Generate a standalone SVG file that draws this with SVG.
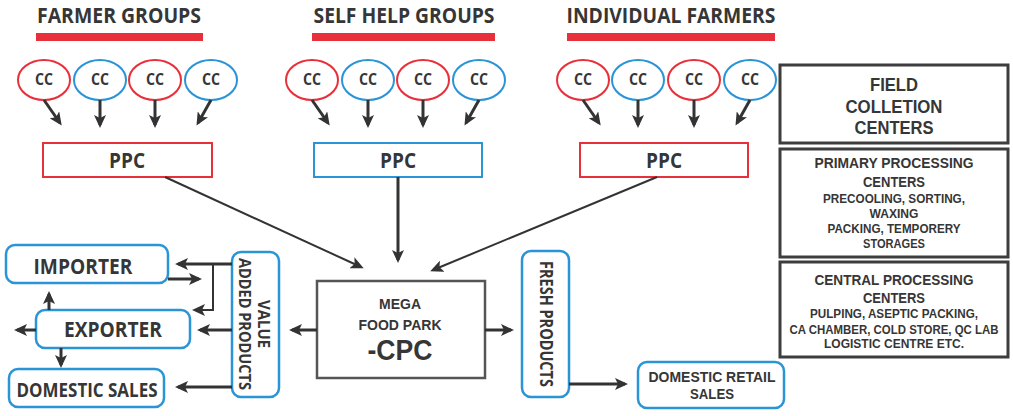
<svg xmlns="http://www.w3.org/2000/svg" width="1013" height="416" viewBox="0 0 1013 416">
<style>
text{font-family:"Open Sans","Noto Sans","Liberation Sans",sans-serif;font-weight:700;fill:#363636;text-anchor:middle}
.tight text{font-family:"Liberation Sans","Arial",sans-serif}
.red{fill:none;stroke:#e8303a;stroke-width:2}
.blue{fill:none;stroke:#2a94d6;stroke-width:2}
.rbox{fill:#fff;stroke:#2a94d6;stroke-width:2.5}
.dbox{fill:#fff;stroke:#3d3d3d;stroke-width:3}
.bar{fill:#e8303a}
.ln{fill:none;stroke:#333;stroke-width:3;marker-end:url(#ah)}
.thin{fill:none;stroke:#333;stroke-width:2;marker-end:url(#ah)}
</style>
<defs>
<marker id="ah" markerUnits="userSpaceOnUse" markerWidth="13" markerHeight="12" viewBox="0 0 13 12" refX="10" refY="6" orient="auto">
<path d="M0,0 L13,6 L0,12 L3,6 z" fill="#333"/>
</marker>
</defs>
<rect width="1013" height="416" fill="#fff"/>

<g id="titles">
<text x="119" y="23" font-size="22" textLength="164" lengthAdjust="spacingAndGlyphs">FARMER GROUPS</text>
<rect class="bar" x="36" y="33" width="167" height="8"/>
<text x="404" y="23" font-size="22" textLength="181" lengthAdjust="spacingAndGlyphs">SELF HELP GROUPS</text>
<rect class="bar" x="312" y="33" width="183" height="8"/>
<text x="671" y="23" font-size="22" textLength="209" lengthAdjust="spacingAndGlyphs">INDIVIDUAL FARMERS</text>
<rect class="bar" x="567" y="33" width="208" height="8"/>
</g>

<g id="cc-farmer">
<ellipse class="red" cx="44" cy="80" rx="26" ry="20"/><text x="44" y="85" font-size="16" textLength="18" lengthAdjust="spacingAndGlyphs">CC</text>
<ellipse class="blue" cx="100" cy="80" rx="26" ry="20"/><text x="100" y="85" font-size="16" textLength="18" lengthAdjust="spacingAndGlyphs">CC</text>
<ellipse class="red" cx="155" cy="80" rx="26" ry="20"/><text x="155" y="85" font-size="16" textLength="18" lengthAdjust="spacingAndGlyphs">CC</text>
<ellipse class="blue" cx="211" cy="80" rx="26" ry="20"/><text x="211" y="85" font-size="16" textLength="18" lengthAdjust="spacingAndGlyphs">CC</text>
</g>
<g id="cc-shg">
<ellipse class="red" cx="312" cy="80" rx="26" ry="20"/><text x="312" y="85" font-size="16" textLength="18" lengthAdjust="spacingAndGlyphs">CC</text>
<ellipse class="blue" cx="368" cy="80" rx="26" ry="20"/><text x="368" y="85" font-size="16" textLength="18" lengthAdjust="spacingAndGlyphs">CC</text>
<ellipse class="red" cx="423" cy="80" rx="26" ry="20"/><text x="423" y="85" font-size="16" textLength="18" lengthAdjust="spacingAndGlyphs">CC</text>
<ellipse class="blue" cx="479" cy="80" rx="26" ry="20"/><text x="479" y="85" font-size="16" textLength="18" lengthAdjust="spacingAndGlyphs">CC</text>
</g>
<g id="cc-indiv">
<ellipse class="red" cx="583" cy="80" rx="26" ry="20"/><text x="583" y="85" font-size="16" textLength="18" lengthAdjust="spacingAndGlyphs">CC</text>
<ellipse class="blue" cx="638" cy="80" rx="26" ry="20"/><text x="638" y="85" font-size="16" textLength="18" lengthAdjust="spacingAndGlyphs">CC</text>
<ellipse class="red" cx="694" cy="80" rx="26" ry="20"/><text x="694" y="85" font-size="16" textLength="18" lengthAdjust="spacingAndGlyphs">CC</text>
<ellipse class="blue" cx="750" cy="80" rx="26" ry="20"/><text x="750" y="85" font-size="16" textLength="18" lengthAdjust="spacingAndGlyphs">CC</text>
</g>

<g id="ppc-farmer"><rect class="red" x="43" y="143" width="169" height="34"/><text x="127" y="168" font-size="21" textLength="36" lengthAdjust="spacingAndGlyphs">PPC</text></g>
<g id="ppc-shg"><rect class="blue" x="314" y="143" width="168" height="34"/><text x="398" y="168" font-size="21" textLength="36" lengthAdjust="spacingAndGlyphs">PPC</text></g>
<g id="ppc-indiv"><rect class="red" x="580" y="143" width="168" height="34"/><text x="664" y="168" font-size="21" textLength="36" lengthAdjust="spacingAndGlyphs">PPC</text></g>

<g id="field-centers" class="tight"><rect class="dbox" x="780" y="65" width="228" height="78"/>
<text x="894" y="91" font-size="19" textLength="48" lengthAdjust="spacingAndGlyphs">FIELD</text>
<text x="894" y="113" font-size="19" textLength="97" lengthAdjust="spacingAndGlyphs">COLLETION</text>
<text x="894" y="134" font-size="19" textLength="79" lengthAdjust="spacingAndGlyphs">CENTERS</text></g>

<g id="primary-centers" class="tight"><rect class="dbox" x="780" y="149" width="228" height="108"/>
<text x="894" y="168" font-size="15" textLength="159" lengthAdjust="spacingAndGlyphs">PRIMARY PROCESSING</text>
<text x="894" y="187" font-size="15" textLength="62" lengthAdjust="spacingAndGlyphs">CENTERS</text>
<text x="894" y="203" font-size="12" textLength="142" lengthAdjust="spacingAndGlyphs">PRECOOLING, SORTING,</text>
<text x="894" y="218" font-size="12" textLength="49" lengthAdjust="spacingAndGlyphs">WAXING</text>
<text x="894" y="233" font-size="12" textLength="133" lengthAdjust="spacingAndGlyphs">PACKING, TEMPORERY</text>
<text x="894" y="248" font-size="12" textLength="62" lengthAdjust="spacingAndGlyphs">STORAGES</text></g>

<g id="central-centers" class="tight"><rect class="dbox" x="780" y="262" width="228" height="95"/>
<text x="894" y="285" font-size="15" textLength="159" lengthAdjust="spacingAndGlyphs">CENTRAL PROCESSING</text>
<text x="894" y="303" font-size="15" textLength="62" lengthAdjust="spacingAndGlyphs">CENTERS</text>
<text x="894" y="318" font-size="12" textLength="168" lengthAdjust="spacingAndGlyphs">PULPING, ASEPTIC PACKING,</text>
<text x="894" y="334" font-size="12" textLength="209" lengthAdjust="spacingAndGlyphs">CA CHAMBER, COLD STORE, QC LAB</text>
<text x="894" y="348" font-size="12" textLength="140" lengthAdjust="spacingAndGlyphs">LOGISTIC CENTRE ETC.</text></g>

<g id="mega-food-park" class="tight"><rect x="317" y="281" width="168" height="97" fill="#fff" stroke="#555" stroke-width="2.5"/>
<text x="400" y="309" font-size="15" textLength="42" lengthAdjust="spacingAndGlyphs">MEGA</text>
<text x="400" y="330" font-size="15" textLength="83" lengthAdjust="spacingAndGlyphs">FOOD PARK</text>
<text x="400" y="360" font-size="29" textLength="65" lengthAdjust="spacingAndGlyphs">-CPC</text></g>

<g id="fresh-products"><rect class="rbox" x="522" y="251" width="47" height="146" rx="9"/>
<text transform="translate(540,324) rotate(90)" font-size="18" textLength="126" lengthAdjust="spacingAndGlyphs">FRESH PRODUCTS</text></g>

<g id="domestic-retail" class="tight"><rect class="rbox" x="638" y="362" width="146" height="46" rx="9"/>
<text x="712" y="382" font-size="15" textLength="127" lengthAdjust="spacingAndGlyphs">DOMESTIC RETAIL</text>
<text x="712" y="399" font-size="15" textLength="44" lengthAdjust="spacingAndGlyphs">SALES</text></g>

<g id="value-added"><rect class="rbox" x="232" y="252" width="47" height="145" rx="9"/>
<text transform="translate(258,324) rotate(90)" font-size="16" textLength="48" lengthAdjust="spacingAndGlyphs">VALUE</text>
<text transform="translate(239,324) rotate(90)" font-size="16" textLength="132" lengthAdjust="spacingAndGlyphs">ADDED PRODUCTS</text></g>

<g id="importer"><rect class="rbox" x="6" y="245" width="162" height="38" rx="9"/>
<text x="83" y="274" font-size="22" textLength="99" lengthAdjust="spacingAndGlyphs">IMPORTER</text></g>
<g id="exporter"><rect class="rbox" x="36" y="310" width="154" height="38" rx="9"/>
<text x="113" y="337" font-size="22" textLength="98" lengthAdjust="spacingAndGlyphs">EXPORTER</text></g>
<g id="domestic-sales"><rect class="rbox" x="9" y="369" width="155" height="38" rx="9"/>
<text x="87" y="397" font-size="20" textLength="141" lengthAdjust="spacingAndGlyphs">DOMESTIC SALES</text></g>

<g id="connectors">
<line class="ln" x1="44" y1="100" x2="60" y2="123"/>
<line class="ln" x1="100" y1="100" x2="100" y2="125"/>
<line class="ln" x1="155" y1="100" x2="155" y2="125"/>
<line class="ln" x1="211" y1="100" x2="198" y2="123"/>
<line class="ln" x1="312" y1="100" x2="328" y2="123"/>
<line class="ln" x1="368" y1="100" x2="368" y2="125"/>
<line class="ln" x1="423" y1="100" x2="423" y2="125"/>
<line class="ln" x1="479" y1="100" x2="466" y2="123"/>
<line class="ln" x1="583" y1="100" x2="599" y2="123"/>
<line class="ln" x1="638" y1="100" x2="638" y2="125"/>
<line class="ln" x1="694" y1="100" x2="694" y2="125"/>
<line class="ln" x1="750" y1="100" x2="737" y2="123"/>
<line class="thin" x1="165" y1="177" x2="361" y2="267"/>
<line class="ln" x1="398" y1="177" x2="398" y2="260"/>
<line class="thin" x1="657" y1="177" x2="433" y2="270"/>
<line class="ln" x1="485" y1="330" x2="511" y2="330"/>
<line class="ln" x1="317" y1="330" x2="292" y2="330"/>
<line class="ln" x1="569" y1="384" x2="625" y2="384"/>
<line class="ln" x1="232" y1="264" x2="178" y2="264"/>
<polyline class="thin" points="213,264 213,310 195,310"/>
<line class="ln" x1="168" y1="279" x2="199" y2="279"/>
<line class="ln" x1="232" y1="330" x2="200" y2="330"/>
<line class="ln" x1="232" y1="387" x2="178" y2="387"/>
<line class="ln" x1="49" y1="310" x2="49" y2="294"/>
<line class="ln" x1="36" y1="330" x2="17" y2="330"/>
<line class="ln" x1="61" y1="348" x2="61" y2="365"/>
</g>
</svg>
